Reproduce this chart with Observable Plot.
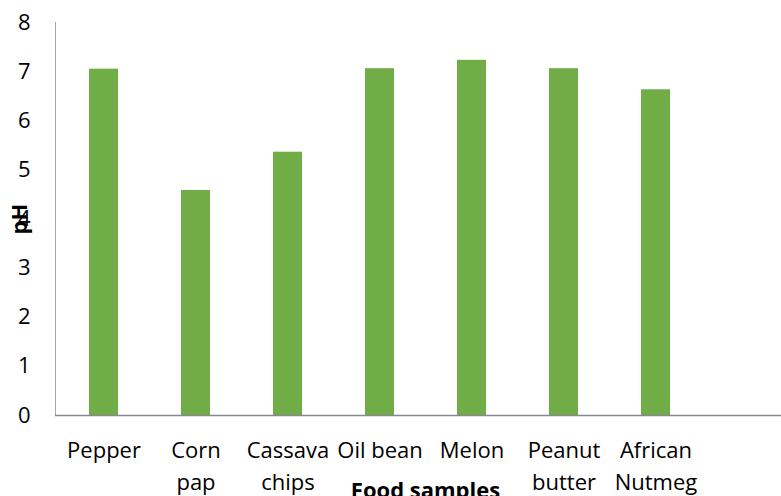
<!DOCTYPE html>
<html>
<head>
<meta charset="utf-8">
<script src="https://cdn.jsdelivr.net/npm/d3@7"></script>
<script src="https://cdn.jsdelivr.net/npm/@observablehq/plot@0.6"></script>
<style>
  body { margin: 0; background: #fff; }
  svg { display: block; }
</style>
</head>
<body>
<div id="chart"></div>
<script>
// Food samples (line breaks are the wrapped tick labels) and their measured pH
const foods = ["Pepper", "Corn\npap", "Cassava\nchips", "Oil bean", "Melon", "Peanut\nbutter", "African\nNutmeg"];
const pH = [7.05, 4.58, 5.36, 7.06, 7.23, 7.06, 6.63];
const yTicks = [0, 1, 2, 3, 4, 5, 6, 7, 8];
const xTitle = "Food samples";
const yTitle = "pH";

// an extra empty slot keeps the right-hand band free
const slots = [...foods, ""];
const rows = foods.map((food, i) => ({food, pH: pH[i]}));

const chart = Plot.plot({
  width: 781,
  height: 496,
  marginLeft: 55,
  marginRight: 0,
  marginTop: 22,
  marginBottom: 81,
  style: {fontFamily: "'Open Sans', sans-serif", fontSize: "22px", color: "#000", background: "#fff"},
  x: {domain: slots, range: [55, 795], paddingInner: 0.686, paddingOuter: 0.343, axis: null},
  y: {domain: [0, 8], axis: null, label: null},
  marks: [
    Plot.barY(rows, {x: "food", y: "pH", fill: "#70AD47"}),
    Plot.frame({anchor: "left", stroke: "#a6a6a6", strokeWidth: 1}),
    Plot.ruleY([0], {stroke: "#898989", strokeWidth: 1.3}),
    Plot.axisY(yTicks, {tickSize: 0, tickPadding: 25, fontSize: 22, fill: "#000", label: null}),
    Plot.text(foods, {
      x: d => d, text: d => d, frameAnchor: "bottom", lineAnchor: "top",
      dy: 19.5, lineHeight: 1.45, fontSize: 22, fill: "#000"
    }),
    Plot.text([xTitle], {
      frameAnchor: "bottom", lineAnchor: "top", dx: 7, dy: 67,
      fontSize: 22, fontWeight: "bold", fill: "#000"
    }),
    Plot.text([yTitle], {
      frameAnchor: "left", dx: -36, rotate: -90, textAnchor: "middle",
      fontSize: 22, fontWeight: "bold", fill: "#000"
    })
  ]
});

document.getElementById("chart").append(chart);
</script>
</body>
</html>
